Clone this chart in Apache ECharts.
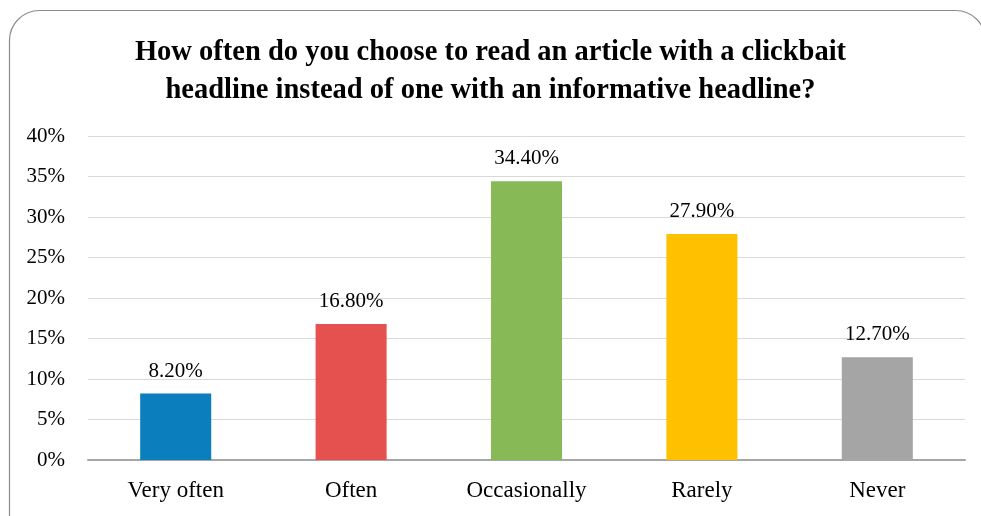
<!DOCTYPE html>
<html>
<head>
<meta charset="utf-8">
<script src="https://cdn.jsdelivr.net/npm/echarts@6/dist/echarts.min.js"></script>
<style>
html,body{margin:0;padding:0;background:#fff;}
#chart{width:981px;height:516px;}
</style>
</head>
<body>
<div id="chart"></div>
<script>
// Survey responses: share of readers picking clickbait over informative headlines
const categories = ['Very often', 'Often', 'Occasionally', 'Rarely', 'Never'];
const shares = [8.2, 16.8, 34.4, 27.9, 12.7];
const barColors = ['#0B7FBD', '#E4514F', '#87B957', '#FFC000', '#A5A5A5'];
const yTicks = [0, 5, 10, 15, 20, 25, 30, 35, 40];

const serif = '"Liberation Serif", "DejaVu Serif", serif';

const chart = echarts.init(document.getElementById('chart'), null, { renderer: 'canvas' });
chart.setOption({
  backgroundColor: '#fff',
  animation: false,
  graphic: [{
    type: 'rect',
    left: 7, top: 8,
    shape: { width: 976, height: 540, r: 30 },
    style: { fill: 'none', stroke: '#8c8c8c', lineWidth: 1.2 },
    z: -1
  }],
  title: {
    text: 'How often do you choose to read an article with a clickbait\nheadline instead of one with an informative headline?',
    left: 'center',
    top: 29,
    textStyle: {
      fontFamily: serif,
      fontWeight: 'bold',
      fontSize: 28.5,
      lineHeight: 38,
      color: '#000'
    }
  },
  grid: { left: 88, right: 16, top: 136, bottom: 56 },
  xAxis: {
    type: 'category',
    data: categories,
    axisLine: { lineStyle: { color: '#a6a6a6', width: 2 } },
    axisTick: { show: false },
    axisLabel: { fontFamily: serif, fontSize: 23, color: '#000', margin: 19 }
  },
  yAxis: {
    type: 'value',
    min: yTicks[0],
    max: yTicks[yTicks.length - 1],
    interval: yTicks[1] - yTicks[0],
    axisLine: { show: false },
    axisTick: { show: false },
    splitLine: { lineStyle: { color: '#d9d9d9', width: 1 } },
    axisLabel: {
      fontFamily: serif, fontSize: 21, color: '#000', margin: 23,
      formatter: v => v + '%'
    }
  },
  series: [{
    type: 'bar',
    barWidth: '40.5%',
    data: shares.map((v, i) => ({ value: v, itemStyle: { color: barColors[i] } })),
    label: {
      show: true,
      position: 'top',
      distance: 12,
      fontFamily: serif,
      fontSize: 21,
      color: '#000',
      formatter: p => p.value.toFixed(2) + '%'
    }
  }]
});
</script>
</body>
</html>
